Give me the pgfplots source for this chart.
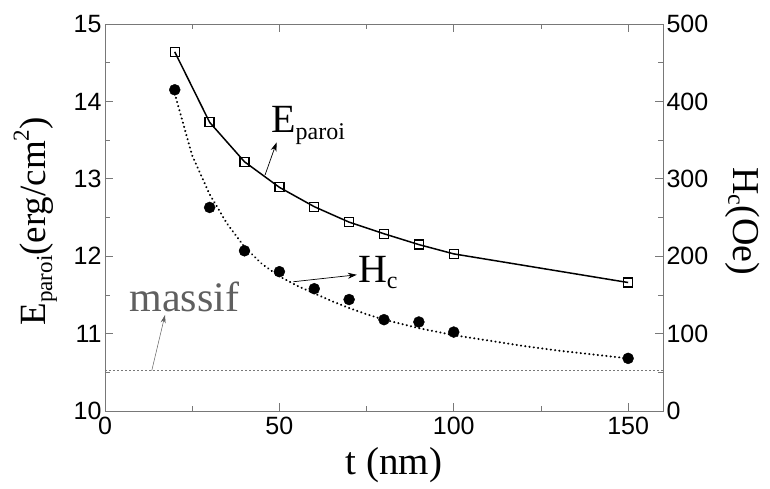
\documentclass[border=0pt]{standalone}
\usepackage{pgfplots}
\pgfplotsset{compat=1.18}
\usepackage{fontspec}
\setmainfont{Liberation Serif}
\newfontfamily\ticksfont{Liberation Sans}
\usetikzlibrary{arrows.meta}
\definecolor{axgray}{RGB}{120,120,120}
\definecolor{txtgray}{RGB}{95,95,95}

\pgfplotstableread{
t E
20 14.64
30 13.73
40 13.22
50 12.89
60 12.64
70 12.44
80 12.29
90 12.15
100 12.03
150 11.66
}\Eparoi

\pgfplotstableread{
t H
20 415
30 263
40 207
50 180
60 158
70 144
80 118
90 115
100 102
150 68
}\Hc

\pgfplotstableread{
t H
20 410
25 330
30 280
35 242
40 212
45 190
50 174
55 162
60 152
65 142
70 133
75 125
80 118
90 107
100 98
110 91
120 84
130 78
140 73
150 68
}\Hcfit

\begin{document}
\begin{tikzpicture}
\path[use as bounding box] (-105pt,-77pt) rectangle (665pt,411pt);
\pgfplotsset{
  every axis/.append style={
    scale only axis, width=558pt, height=387pt,
    xmin=0, xmax=160,
    axis line style={axgray, line width=0.8pt},
    tick style={axgray, line width=0.8pt},
    major tick length=8pt, minor tick length=5pt,
    tick align=inside,
    ticklabel style={font=\ticksfont\fontsize{25}{25}\selectfont},
    xticklabel style={yshift=-3pt},
    /pgf/number format/assume math mode=true,
  }
}
\begin{axis}[
  ymin=10, ymax=15,
  xtick={0,50,100,150}, minor xtick={25,75,125},
  ytick={10,11,...,15}, minor ytick={10.5,11.5,...,14.5},
  ytick pos=left, xtick pos=both,
  xlabel={t (nm)},
  ylabel={E\raisebox{-0.18em}{\fontsize{23}{23}\selectfont paroi}(erg/cm\raisebox{0.45em}{\fontsize{23}{23}\selectfont 2})},
  every axis x label/.style={at={(axis description cs:0.518,-0.14)}, anchor=center, font=\fontsize{39}{39}\selectfont},
  every axis y label/.style={at={(axis description cs:-0.125,0.49)}, rotate=90, anchor=center, font=\fontsize{37}{37}\selectfont},
  clip=false,
]
\addplot[axgray, line width=0.6pt, dash pattern=on 2pt off 2pt] coordinates {(0,10.53) (160,10.53)};
\addplot[black, line width=1.5pt, mark=square, mark size=4.5pt,
  mark options={solid, fill=white, line width=1.3pt}] table[x=t, y=E] {\Eparoi};

\node[anchor=base west, inner sep=0pt, font=\fontsize{40}{40}\selectfont] at (axis cs:47.6,13.60)
  {E\raisebox{-0.18em}{\fontsize{24}{24}\selectfont paroi}};
\draw[black, line width=0.7pt, -{Stealth[length=9pt,width=6pt]}] (axis cs:45.9,13.05) -- (axis cs:49.2,13.47);

\node[anchor=base west, inner sep=0pt, font=\fontsize{40}{40}\selectfont] at (axis cs:72.5,11.655)
  {H\raisebox{-0.14em}{\fontsize{24}{24}\selectfont c}};
\draw[black, line width=0.7pt, -{Stealth[length=9pt,width=6pt]}] (axis cs:54.0,11.67) -- (axis cs:72.2,11.76);

\node[anchor=base west, inner sep=0pt, text=txtgray, font=\fontsize{42}{42}\selectfont] at (axis cs:7.0,11.283) {massif};
\draw[txtgray, line width=0.5pt, -{Stealth[length=8pt,width=5pt]}] (axis cs:13.4,10.52) -- (axis cs:17.2,11.24);
\end{axis}

\begin{axis}[
  ymin=0, ymax=500,
  axis x line=none, axis y line*=right,
  ytick={0,100,...,500}, minor ytick={50,150,...,450},
  ylabel={H\raisebox{-0.14em}{\fontsize{24}{24}\selectfont c}(Oe)},
  every axis y label/.style={at={(axis description cs:1.143,0.49)}, rotate=-90, anchor=center, font=\fontsize{38}{38}\selectfont},
]
\addplot[black, line width=2.2pt, dash pattern=on 0.1pt off 4.2pt, line cap=round] table[x=t, y=H] {\Hcfit};
\addplot[only marks, mark=*, mark size=5.5pt, black] table[x=t, y=H] {\Hc};
\end{axis}
\end{tikzpicture}
\end{document}
